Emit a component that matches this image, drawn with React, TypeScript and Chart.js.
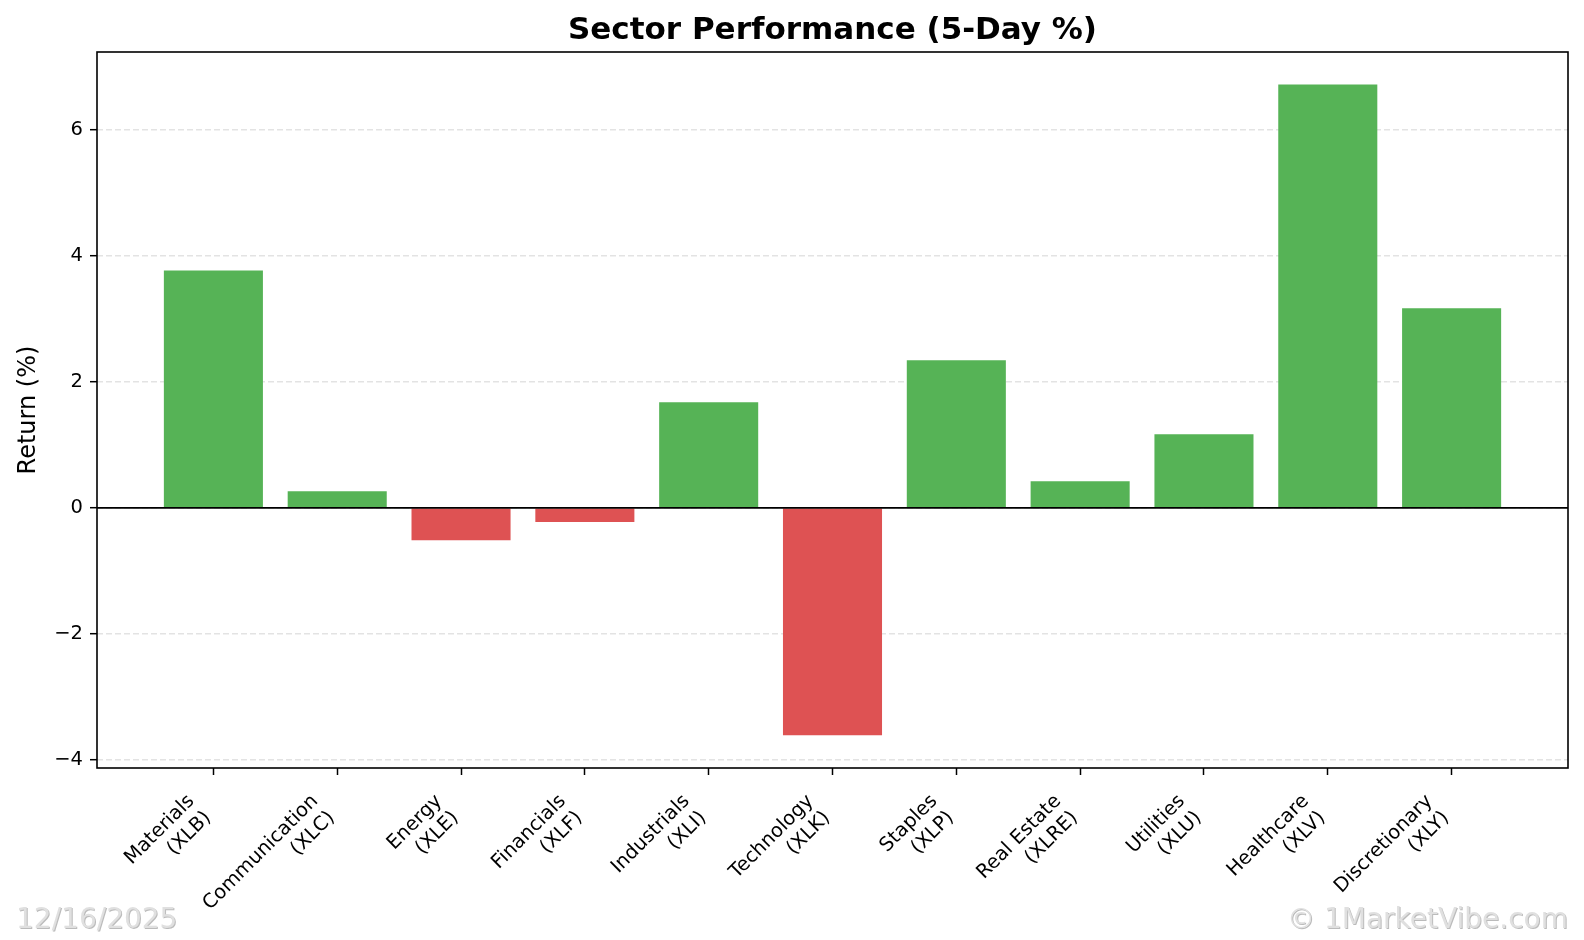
import React, { useEffect, useRef } from 'react';
import { Chart, registerables } from 'chart.js';

Chart.register(...registerables);

const sectors = ['Materials', 'Communication', 'Energy', 'Financials', 'Industrials', 'Technology', 'Staples', 'Real Estate', 'Utilities', 'Healthcare', 'Discretionary'];
const tickers = ['XLB', 'XLC', 'XLE', 'XLF', 'XLI', 'XLK', 'XLP', 'XLRE', 'XLU', 'XLV', 'XLY'];
const returns = [3.77, 0.265, -0.513, -0.222, 1.677, -3.608, 2.344, 0.423, 1.169, 6.725, 3.169];
const yTicks = [-4, -2, 0, 2, 4, 6];
const yMin = -4.13;
const yMax = 7.24;
const xMin = -0.94;
const xMax = 10.94;
const chartTitle = 'Sector Performance (5-Day %)';
const yTitle = 'Return (%)';
const dateStamp = '12/16/2025';
const credit = '© 1MarketVibe.com';

const GREEN = '#56b356';
const RED = '#de5253';
const FONT = '"DejaVu Sans", sans-serif';

const W = 1584;
const H = 940;

const decorPlugin = {
  id: 'decor',
  afterDraw(chart: any) {
    const { ctx, chartArea } = chart;
    const yScale = chart.scales.y;
    ctx.save();
    // zero line
    const y0 = yScale.getPixelForValue(0);
    ctx.strokeStyle = '#000';
    ctx.lineWidth = 1.9;
    ctx.beginPath();
    ctx.moveTo(chartArea.left, y0);
    ctx.lineTo(chartArea.right, y0);
    ctx.stroke();
    // frame
    ctx.lineWidth = 1.6;
    ctx.strokeStyle = '#000';
    ctx.strokeRect(chartArea.left, chartArea.top, chartArea.right - chartArea.left, chartArea.bottom - chartArea.top);
    // title
    ctx.fillStyle = '#000';
    ctx.font = `bold 31px ${FONT}`;
    ctx.textAlign = 'center';
    ctx.textBaseline = 'alphabetic';
    ctx.fillText(chartTitle, (chartArea.left + chartArea.right) / 2, 39);
    // y title
    ctx.save();
    ctx.translate(35, (chartArea.top + chartArea.bottom) / 2);
    ctx.rotate(-Math.PI / 2);
    ctx.font = `24px ${FONT}`;
    ctx.textAlign = 'center';
    ctx.textBaseline = 'alphabetic';
    ctx.fillText(yTitle, 0, 0);
    ctx.restore();
    // watermarks
    ctx.font = `28px ${FONT}`;
    ctx.textBaseline = 'alphabetic';
    const drawMark = (text: string, x: number, align: CanvasTextAlign) => {
      ctx.textAlign = align;
      ctx.fillStyle = 'rgba(120,120,120,0.5)';
      ctx.fillText(text, x + 1, 928 + 1);
      ctx.fillStyle = '#e0e0e0';
      ctx.fillText(text, x, 928);
    };
    drawMark(dateStamp, 16, 'left');
    drawMark(credit, 1568, 'right');
    ctx.restore();
  },
};

export default function App() {
  const canvasRef = useRef<HTMLCanvasElement | null>(null);

  useEffect(() => {
    document.body.style.margin = '0';
    const canvas = canvasRef.current;
    if (!canvas) return;
    const chart = new Chart(canvas, {
      type: 'bar',
      data: {
        datasets: [
          {
            data: returns.map((v, i) => ({ x: i, y: v })),
            backgroundColor: returns.map((v) => (v >= 0 ? GREEN : RED)),
            borderWidth: 0,
            barPercentage: 0.8,
            categoryPercentage: 1,
          },
        ],
      },
      options: {
        animation: false,
        responsive: false,
        maintainAspectRatio: false,
        devicePixelRatio: 1,
        layout: { padding: { top: 52, right: 16, left: 0, bottom: 0 } },
        plugins: {
          legend: { display: false },
          title: { display: false },
          tooltip: { enabled: false },
        },
        scales: {
          x: {
            type: 'linear',
            min: xMin,
            max: xMax,
            offset: false,
            afterBuildTicks: (scale: any) => {
              scale.ticks = sectors.map((_, i) => ({ value: i }));
            },
            afterFit: (scale: any) => {
              scale.height = 172;
            },
            grid: {
              display: true,
              offset: false,
              drawOnChartArea: false,
              drawTicks: true,
              tickLength: 7,
              tickColor: '#000',
              tickWidth: 1.5,
            },
            border: { display: false },
            ticks: {
              autoSkip: false,
              minRotation: 45,
              maxRotation: 45,
              padding: 15,
              labelOffset: -22,
              color: '#000',
              font: { family: FONT, size: 19.5 },
              callback: (value: any) => {
                const i = Math.round(Number(value));
                return [sectors[i], `(${tickers[i]})`];
              },
            },
          },
          y: {
            type: 'linear',
            min: yMin,
            max: yMax,
            z: 1,
            afterBuildTicks: (scale: any) => {
              scale.ticks = yTicks.map((v) => ({ value: v }));
            },
            afterFit: (scale: any) => {
              scale.width = 97;
            },
            grid: {
              display: true,
              drawOnChartArea: true,
              drawTicks: true,
              color: 'rgba(128,128,128,0.22)',
              lineWidth: 1.4,
              tickLength: 7,
              tickColor: '#000',
              tickWidth: 1.5,
            },
            border: { display: false, dash: [6, 3] },
            ticks: {
              padding: 7,
              color: '#000',
              font: { family: FONT, size: 19.5 },
              callback: (value: any) => (Number(value) < 0 ? '\u2212' + Math.abs(Number(value)) : String(value)),
            },
          },
        },
      },
      plugins: [decorPlugin],
    });
    return () => chart.destroy();
  }, []);

  return (
    <div style={{ width: W, height: H, background: '#fff' }}>
      <canvas ref={canvasRef} width={W} height={H} style={{ display: 'block', width: W, height: H }} />
    </div>
  );
}
